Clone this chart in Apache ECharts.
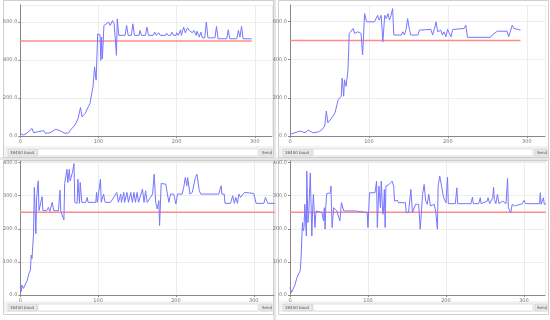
<!DOCTYPE html>
<html>
<head>
<meta charset="utf-8">
<script src="https://cdn.jsdelivr.net/npm/echarts@6/dist/echarts.min.js"></script>
<style>
html, body { margin: 0; padding: 0; background: #fff; }
#main { width: 550px; height: 320px; }
</style>
</head>
<body>
<div id="main"></div>
<script>
/* four serial plotter captures: [sample, reading] */
var plotTopLeft = [
	[0,14],[4,5],[9,17],[15,40],[17,17],[23,23],[30,28],[32,14],[38,17],[45,35],[49,31],[53,23],
	[57,14],[62,17],[64,31],[66,40],[70,58],[74,93],[77,150],[79,101],[83,119],[87,154],[89,171],
	[93,259],[95,364],[97,294],[99,538],[102,533],[103,399],[104,521],[105,407],[107,582],[113,600],
	[115,582],[118,608],[120,591],[123,425],[124,617],[126,530],[134,530],[136,582],[138,530],
	[142,530],[144,591],[146,530],[152,530],[153,556],[155,530],[160,530],[162,573],[164,530],
	[170,530],[172,547],[174,530],[177,544],[179,530],[186,530],[187,542],[189,530],[192,530],
	[194,547],[196,530],[199,530],[200,544],[202,530],[203,530],[205,559],[206,530],[208,530],
	[209,573],[211,544],[214,570],[216,556],[218,565],[220,544],[222,556],[225,530],[226,552],
	[229,521],[231,547],[233,517],[236,517],[238,600],[240,517],[249,517],[251,577],[253,512],
	[264,512],[266,559],[268,512],[277,512],[279,556],[281,521],[283,577],[285,512],[296,512]
];
var plotTopRight = [
	[0,9],[6,17],[13,26],[19,17],[23,31],[29,17],[36,21],[40,31],[44,52],[46,130],[48,69],[53,95],
	[57,121],[61,190],[65,208],[66,303],[68,208],[69,294],[71,260],[73.5,346],[75,536],[77,536],
	[80,562],[82,536],[86,545],[90,536],[92,424],[94.5,640],[97,597],[107,597],[111,631],[113,606],
	[115.5,631],[117.6,493],[120,631],[122,614],[124,640],[126,606],[128,631],[130,666],[131.5,528],
	[141,528],[143,545],[145,528],[147,557],[149,614],[151,562],[153,528],[162,528],[164,554],
	[166,557],[178.5,557],[180.7,528],[183,562],[185,597],[187,545],[191,554],[193,528],[195,545],
	[197.5,519],[199.6,557],[204,519],[206,557],[220.6,562],[222.7,580],[224.8,516],[254,516],
	[256,528],[258,519],[262.6,548],[275,548],[277,519],[279,545],[281.5,580],[283.6,562],
	[285.7,554],[292,554]
];
var plotBottomLeft = [
	[0,25],[1,10],[2,30],[4,20],[6,25],[9,45],[11,65],[13,75],[14,120],[15,110],[17,185],[18,325],
	[20,185],[21,295],[23,345],[24,255],[26,253],[28,297],[29,255],[34,255],[36,265],[38,253],
	[41,280],[43,255],[45,253],[49,255],[51,317],[52,253],[56,227],[57,337],[60,380],[61,340],
	[63,380],[64,345],[67,370],[69,397],[70,280],[73,277],[74,350],[76,277],[77,340],[79,280],
	[84,280],[86,295],[87,280],[97,280],[98,310],[99,280],[103,350],[104,280],[107,305],[109,280],
	[116,280],[124,310],[126,280],[129,305],[130,280],[133,310],[134,280],[137,310],[139,280],
	[142,310],[144,280],[146,310],[148,280],[150,310],[152,280],[157,320],[159,280],[161,315],
	[163,280],[170,305],[172,365],[174,280],[176,260],[178,285],[179,210],[181,337],[182,340],
	[187,335],[189,305],[191,280],[193,305],[197,305],[200,275],[202,305],[208,305],[210,325],
	[212,355],[214,330],[215,355],[218,305],[221,310],[223,305],[225,355],[227,365],[230,315],
	[232,305],[255,305],[258,330],[259,305],[262,305],[263,277],[270,277],[273,300],[275,277],
	[277,295],[279,277],[281,305],[283,295],[288,310],[290,305],[300,307],[303,277],[313,277],
	[315,295],[318,277],[327,277]
];
var plotBottomRight = [
	[0,23],[2,8],[4,13],[6,28],[9,53],[11,53],[13,73],[14,103],[16,219],[17,194],[18,204],[19,274],
	[21,178],[21.5,374],[23,219],[24,244],[26,369],[28,178],[29,254],[30,304],[32,204],[33,244],
	[34,254],[36,259],[41,249],[43,224],[44,264],[45,199],[46,269],[47,306],[52,309],[52.5,329],
	[54,204],[56,264],[58,259],[60,254],[64,224],[66,279],[69,254],[84,254],[99,249],[100,204],
	[102,309],[109,309],[111,344],[112,204],[114,329],[116,264],[117,344],[119,244],[120,254],
	[121,319],[122,204],[123,329],[127,334],[131,344],[133,329],[134,284],[136,279],[138,286],
	[139,279],[148,279],[149,249],[152,249],[155,319],[157,249],[159,254],[161,274],[163,276],
	[165,274],[167,199],[170,304],[172,334],[174,284],[176,274],[178,304],[180,269],[185,274],
	[187,249],[189,199],[190,329],[192,359],[194,334],[195,334],[197,294],[200,279],[202,356],
	[203,276],[212,276],[214,324],[215,276],[232,276],[234,296],[235,276],[242,276],[244,294],
	[245,276],[253,284],[254,294],[256,276],[260,294],[261,326],[262,289],[264,276],[266,304],
	[268,276],[273,284],[277,276],[279,352],[280,264],[283,249],[285,274],[288,269],[290,274],
	[298,276],[300,286],[302,276],[320,276],[321,309],[322,274],[325,294],[326,274],[328,276]
];
var limitTop = 500;
var limitBottom = 250;
var baudText = '38400 baud';
var sendText = 'Send';

var panels = [
	{data: plotTopLeft, limit: limitTop, yMax: 690, yStep: 200, xMax: 322,
	 grid: {left: 20, top: 5, width: 252, height: 131}, bar: {x: 0, y: 148}, win: {y: 0, h: 158}},
	{data: plotTopRight, limit: limitTop, yMax: 685, yStep: 200, xMax: 323,
	 grid: {left: 290, top: 5, width: 255, height: 131}, bar: {x: 275, y: 148}, win: {y: 0, h: 158}},
	{data: plotBottomLeft, limit: limitBottom, yMax: 405, yStep: 100, xMax: 326,
	 grid: {left: 20, top: 161, width: 254, height: 134}, bar: {x: 0, y: 303}, win: {y: 160, h: 155}},
	{data: plotBottomRight, limit: limitBottom, yMax: 405, yStep: 100, xMax: 327,
	 grid: {left: 290, top: 161, width: 255, height: 134}, bar: {x: 275, y: 303}, win: {y: 160, h: 155}}
];

var myChart = echarts.init(document.getElementById('main'));

var grids = [], xAxes = [], yAxes = [], series = [], graphics = [];
var labelFont = {fontSize: 5, color: '#777', fontFamily: 'DejaVu Sans'};

// gaps between the four windows
graphics.push({type: 'rect', silent: true, z: -10,
	shape: {x: 273, y: 0, width: 3, height: 320}, style: {fill: '#e6e6e6'}});
graphics.push({type: 'rect', silent: true, z: -10,
	shape: {x: 0, y: 157, width: 550, height: 3}, style: {fill: '#e6e6e6'}});

panels.forEach(function (p, i) {
	grids.push(p.grid);
	xAxes.push({
		type: 'value', gridIndex: i, min: 0, max: p.xMax, interval: 100,
		axisLine: {lineStyle: {color: '#888', width: 1}},
		axisTick: {length: 2, lineStyle: {color: '#888'}},
		axisLabel: Object.assign({margin: 3, showMaxLabel: false}, labelFont),
		splitLine: {lineStyle: {color: '#ececec', width: 1}}
	});
	yAxes.push({
		type: 'value', gridIndex: i, min: 0, max: p.yMax, interval: p.yStep,
		axisLine: {show: true, lineStyle: {color: '#888', width: 1}},
		axisTick: {show: true, length: 2, lineStyle: {color: '#888'}},
		axisLabel: Object.assign({margin: 3, showMaxLabel: false,
			formatter: function (v) { return v.toFixed(1); }}, labelFont),
		splitLine: {lineStyle: {color: '#ececec', width: 1}}
	});
	var last = p.data[p.data.length - 1][0];
	series.push({
		type: 'line', xAxisIndex: i, yAxisIndex: i, symbol: 'none', silent: true,
		data: [[0, p.limit], [last, p.limit]],
		lineStyle: {color: '#ff8c8c', width: 1.5}
	});
	series.push({
		type: 'line', xAxisIndex: i, yAxisIndex: i, symbol: 'none', silent: true,
		data: p.data,
		lineStyle: {color: '#7676ff', width: 1}
	});

	// window frame and the baud / input / send strip
	var bx = p.bar.x, by = p.bar.y;
	graphics.push({type: 'rect', silent: true, z: -5,
		shape: {x: bx + 3.5, y: p.win.y + 0.5, width: 270, height: p.win.h - 1},
		style: {fill: null, stroke: '#cfcfcf', lineWidth: 1}});
	graphics.push({type: 'rect', silent: true, z: -6,
		shape: {x: bx + 4, y: by - 2, width: 269, height: 11},
		style: {fill: '#f3f3f3'}});
	graphics.push({type: 'rect', silent: true,
		shape: {x: bx + 8, y: by + 1, width: 29, height: 7},
		style: {fill: '#e9e9e9', stroke: '#c4c4c4', lineWidth: 0.5}});
	graphics.push({type: 'text', silent: true, x: bx + 10, y: by + 2.5,
		style: {text: baudText + '   v', fontSize: 4, fill: '#555', fontFamily: 'DejaVu Sans'}});
	graphics.push({type: 'rect', silent: true,
		shape: {x: bx + 38, y: by + 1, width: 220, height: 7},
		style: {fill: '#ffffff', stroke: '#c4c4c4', lineWidth: 0.5}});
	graphics.push({type: 'rect', silent: true,
		shape: {x: bx + 260, y: by + 1, width: 12, height: 7},
		style: {fill: '#e9e9e9', stroke: '#c4c4c4', lineWidth: 0.5}});
	graphics.push({type: 'text', silent: true, x: bx + 262, y: by + 2.5,
		style: {text: sendText, fontSize: 4, fill: '#555', fontFamily: 'DejaVu Sans'}});
});

myChart.setOption({
	backgroundColor: '#ffffff',
	animation: false,
	grid: grids,
	xAxis: xAxes,
	yAxis: yAxes,
	series: series,
	graphic: graphics
});
</script>
</body>
</html>
